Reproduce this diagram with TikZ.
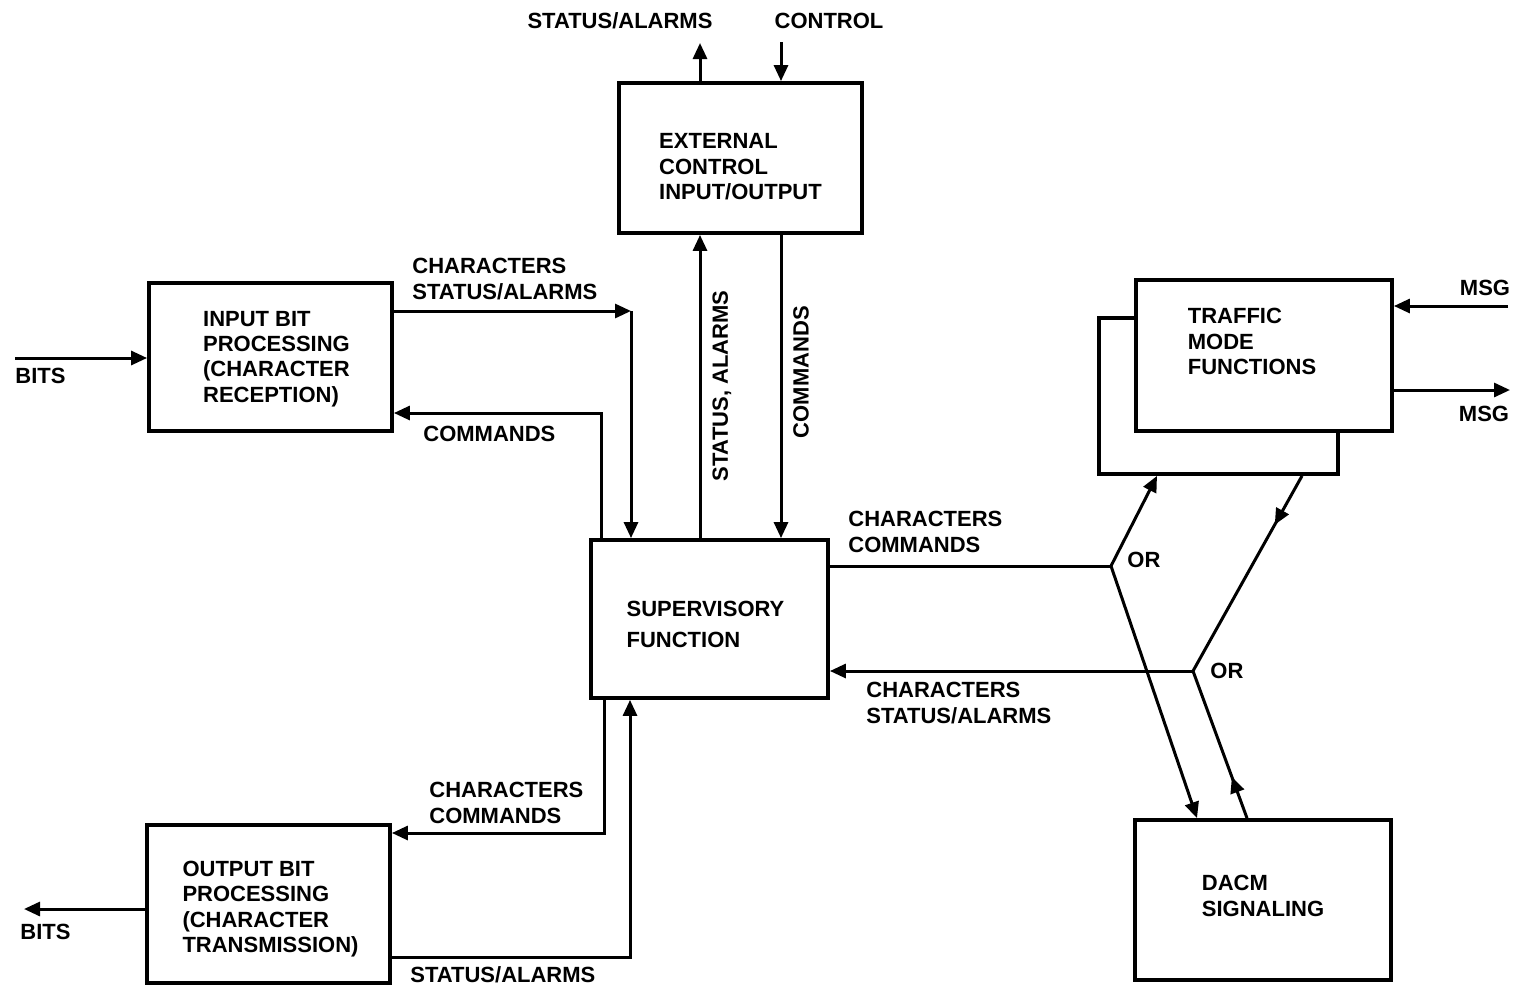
\documentclass[tikz,border=0pt]{standalone}
\usepackage{fontspec}
\setmainfont{Liberation Sans}
\usetikzlibrary{arrows.meta,calc}
\begin{document}
\begin{tikzpicture}[x=0.5pt,y=-0.5pt,
  txt/.style={font=\bfseries\fontsize{11}{13}\selectfont},
  blk/.style={draw,line width=1.9pt,fill=white,inner sep=0pt},
  intxt/.style={align=left,inner sep=0pt,font=\bfseries\fontsize{11}{12.7}\selectfont},
  wire/.style={line width=1.5pt},
  arr/.style={wire,-{Triangle[length=8pt,width=7pt]}},
  lbl/.style={txt,inner sep=0pt,align=left,anchor=west}]
\useasboundingbox (0,0) rectangle (1516,986);

% function blocks
\node[blk,minimum width=121.5pt,minimum height=75pt] (ext) at (740.5,158) {};
\node[blk,minimum width=121.5pt,minimum height=74pt] (inbit) at (270.5,357) {};
\node[blk,minimum width=118.5pt,minimum height=79pt] (sup) at (709.5,619) {};
\node[blk,minimum width=121.5pt,minimum height=79pt] (outbit) at (268.5,904) {};
\node[blk,minimum width=119.5pt,minimum height=78pt] (trafficback) at (1218.5,396) {};
\node[blk,minimum width=128pt,minimum height=75.5pt] (traffic) at (1264,355.5) {};
\node[blk,minimum width=128pt,minimum height=80pt] (dacm) at (1263,900) {};

% block texts
\node[intxt] (extT) at ($(ext.center)+(0,9)$) {EXTERNAL\\CONTROL\\INPUT/OUTPUT};
\node[intxt] (inbitT) at ($(inbit.center)+(6,2)$) {INPUT BIT\\PROCESSING\\(CHARACTER\\RECEPTION)};
\node[intxt,font=\bfseries\fontsize{11}{15.5}\selectfont] (supT) at ($(sup.center)+(-4,5)$) {SUPERVISORY\\FUNCTION};
\node[intxt] (outbitT) at ($(outbit.center)+(2,5)$) {OUTPUT BIT\\PROCESSING\\(CHARACTER\\TRANSMISSION)};
\node[intxt] (trafficT) at ($(traffic.center)+(-12,-14)$) {TRAFFIC\\MODE\\FUNCTIONS};
\node[intxt] (dacmT) at ($(dacm.center)+(0,-4)$) {DACM\\SIGNALING};

% free ends and junctions
\coordinate (saout) at (700,43);
\coordinate (ctlin) at (781,42);
\coordinate (bitsin) at (15,358);
\coordinate (bitsout) at (24,909);
\coordinate (msgin) at (1508,306);
\coordinate (msgout) at (1510,390);
\coordinate (or1) at (1111,566);
\coordinate (or2) at (1193,671);
\coordinate (tbout) at (1302,0 |- trafficback.south);
\coordinate (dacmout) at (1247,0 |- dacm.north);

% external control links
\draw[arr] (700,0 |- ext.north) -- (saout);
\draw[arr] (ctlin) -- (781,0 |- ext.north);
\draw[arr] (700,0 |- sup.north) -- (700,0 |- ext.south);
\draw[arr] (781,0 |- ext.south) -- (781,0 |- sup.north);

% input bit processing links
\draw[arr] (bitsin) -- (inbit.west |- bitsin);
\draw[arr] (inbit.east |- 0,311) -- (631,311);
\draw[arr] (631,311) -- (631,0 |- sup.north);
\draw[arr] (601,0 |- sup.north) -- (601,413) -- (inbit.east |- 0,413);

% output bit processing links
\draw[arr] (604,0 |- sup.south) -- (604,833) -- (outbit.east |- 0,833);
\draw[arr] (outbit.east |- 0,957) -- (630,957) -- (630,0 |- sup.south);
\draw[arr] (outbit.west |- bitsout) -- (bitsout);

% traffic / signalling branches
\draw[wire] (sup.east |- or1) -- (or1);
\draw[arr] (or1) -- (1157,0 |- trafficback.south);
\draw[arr] (or1) -- (1197,0 |- dacm.north);
\draw[arr] (tbout) -- ($(tbout)!0.25!(or2)$);
\draw[wire] ($(tbout)!0.2!(or2)$) -- (or2);
\draw[arr] (dacmout) -- ($(dacmout)!0.28!(or2)$);
\draw[wire] ($(dacmout)!0.25!(or2)$) -- (or2);
\draw[arr] (or2) -- (sup.east |- or2);

% message links
\draw[arr] (msgin) -- (traffic.east |- msgin);
\draw[arr] (traffic.east |- msgout) -- (msgout);

% labels
\node[txt,inner sep=0pt] (lsa) at (620,21) {STATUS/ALARMS};
\node[txt,inner sep=0pt] (lctl) at (829,21) {CONTROL};
\node[txt,inner sep=0pt,rotate=90] (lsa2) at (722,386) {STATUS, ALARMS};
\node[txt,inner sep=0pt,rotate=90] (lcmd) at (801,372) {COMMANDS};
\node[lbl] (lin1) at (412,279) {CHARACTERS\\STATUS/ALARMS};
\node[lbl] (lin2) at (423,434) {COMMANDS};
\node[lbl] (lbits1) at (15,376) {BITS};
\node[lbl] (lout1) at (429,803) {CHARACTERS\\COMMANDS};
\node[lbl] (lout2) at (410,975) {STATUS/ALARMS};
\node[lbl] (lbits2) at (20,932) {BITS};
\node[lbl] (lr1) at (848,532) {CHARACTERS\\COMMANDS};
\node[lbl] (lr2) at (866,703) {CHARACTERS\\STATUS/ALARMS};
\node[lbl] (lor1) at (1127,560) {OR};
\node[lbl] (lor2) at (1210,671) {OR};
\node[txt,inner sep=0pt] (lmsg1) at (1485,288) {MSG};
\node[txt,inner sep=0pt] (lmsg2) at (1484,414) {MSG};
\end{tikzpicture}
\end{document}
